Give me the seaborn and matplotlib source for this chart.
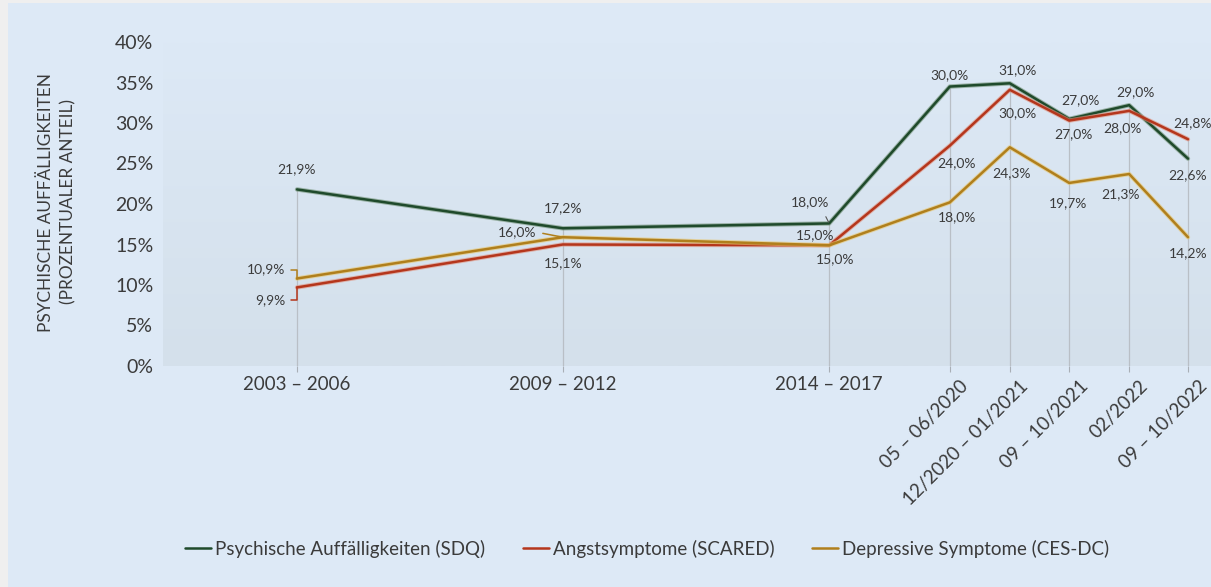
import numpy as np
import pandas as pd
import seaborn as sns
import matplotlib
matplotlib.use("Agg")
import matplotlib.pyplot as plt
import matplotlib.transforms as mtransforms
from matplotlib import patheffects as pe
from matplotlib.patches import Rectangle

# ---------------- data ----------------
periods = ["2003 – 2006", "2009 – 2012", "2014 – 2017", "05 – 06/2020",
           "12/2020 – 01/2021", "09 – 10/2021", "02/2022", "09 – 10/2022"]
x_pos = [0, 4.43, 8.87, 10.88, 11.88, 12.87, 13.87, 14.85]

sdq = [21.8, 17.0, 17.6, 34.5, 34.9, 30.5, 32.2, 25.6]
scared = [9.7, 15.0, 14.9, 27.2, 34.1, 30.3, 31.5, 28.0]
cesdc = [10.8, 15.9, 14.9, 20.2, 27.0, 22.6, 23.7, 15.9]

sdq_labels = ["21,9%", "17,2%", "18,0%", "30,0%", "31,0%", "27,0%", "29,0%", "22,6%"]
scared_labels = ["9,9%", "15,1%", "15,0%", "24,0%", "30,0%", "27,0%", "28,0%", "24,8%"]
cesdc_labels = ["10,9%", "16,0%", "15,0%", "18,0%", "24,3%", "19,7%", "21,3%", "14,2%"]

series_names = ["Psychische Auffälligkeiten (SDQ)", "Angstsymptome (SCARED)",
                "Depressive Symptome (CES-DC)"]
y_ticks = [0, 5, 10, 15, 20, 25, 30, 35, 40]

# ---------------- style ----------------
sns.set_theme(style="white")
plt.rcParams["font.family"] = ["Lato", "DejaVu Sans"]
TXT = "#3b3b3b"
colors = ["#1f4a2b", "#b5361c", "#b07f1c"]
glow = ["#6f8f74", "#e0907c", "#e8c56a"]

W, H = 1211, 587
fig = plt.figure(figsize=(W / 100, H / 100), dpi=100, facecolor="#efefef")
fig.patches.append(Rectangle((8 / W, 0), 1 - 8 / W, 1 - 3 / H, transform=fig.transFigure,
                             facecolor="#dde9f6", edgecolor="none", zorder=-10))

ax_left, ax_right, ax_top, ax_bot = 163, 1211, 42, 366
ax = fig.add_axes([ax_left / W, 1 - ax_bot / H, (ax_right - ax_left) / W, (ax_bot - ax_top) / H])
ax.set_facecolor("none")
grad = np.linspace(0, 1, 256).reshape(-1, 1)
cmap = matplotlib.colors.LinearSegmentedColormap.from_list("g", ["#dde9f6", "#d4e0eb"])
ax.imshow(grad, extent=[0, 1, 0, 1], transform=ax.transAxes, cmap=cmap, aspect="auto", zorder=0)

px = 60.0  # pixels per x unit
ax.set_xlim((ax_left - 297) / px, (ax_right - 297) / px)
ax.set_ylim(0, 40)

df = pd.DataFrame({
    "x": x_pos * 3,
    "value": sdq + scared + cesdc,
    "series": [series_names[0]] * len(x_pos) + [series_names[1]] * len(x_pos) + [series_names[2]] * len(x_pos),
})

# drop lines
tops = np.max(np.array([sdq, scared, cesdc]), axis=0)
ax.vlines(x_pos, 0, tops, color="#b9bfc6", linewidth=0.9, zorder=1)

sns.lineplot(data=df, x="x", y="value", hue="series", palette=dict(zip(series_names, colors)),
             sort=False, linewidth=1.8, ax=ax, legend=True, zorder=3)
for line, g in zip(ax.get_lines(), glow):
    line.set_path_effects([pe.Stroke(linewidth=3.2, foreground=g, alpha=0.6), pe.Normal()])

handles, labels = ax.get_legend_handles_labels()
ax.get_legend().remove()

for s in ax.spines.values():
    s.set_visible(False)
ax.set_xlabel("")
ax.set_ylabel("")
ax.set_yticks(y_ticks)
ax.set_yticklabels([f"{v}%" for v in y_ticks], fontsize=14, color=TXT)
ax.set_xticks(x_pos)
ax.set_xticklabels(periods, fontsize=13.5, color=TXT)
ax.tick_params(axis="y", length=0, pad=7)
ax.tick_params(axis="x", length=4, width=0.8, color="#a9afb6", direction="out", pad=3, bottom=True)
offset = mtransforms.ScaledTranslation(10 / 100, -2 / 100, fig.dpi_scale_trans)
for i, t in enumerate(ax.get_xticklabels()):
    if i >= 3:
        t.set_rotation(45)
        t.set_ha("right")
        t.set_va("top")
        t.set_rotation_mode("anchor")
        t.set_transform(t.get_transform() + offset)

fig.text(57 / W, 1 - 202 / H, "PSYCHISCHE AUFFÄLLIGKEITEN\n(PROZENTUALER ANTEIL)",
         rotation=90, ha="center", va="center", multialignment="center", fontsize=12.4,
         color=TXT, linespacing=1.5)

# ---------------- data labels ----------------
k = 0.72  # px -> pt
lab_fs = 10
sdq_off = [(0, 20), (0, 20), (-19, 21), (0, 11), (8, 13), (11, 19), (6, 13), (0, -17)]
scared_off = [(-12, -13), (0, -19), (-14, 10), (7, -17), (8, -23), (4, -14), (-7, -17), (5, 16)]
cesdc_off = [(-12, 9), (-26, 5), (6, -14), (7, -15), (2, -26), (-1, -20), (-9, -20), (0, -16)]

def put(vals, labs, offs, col, leaders):
    for i, (xv, yv, lab, (dx, dy)) in enumerate(zip(x_pos, vals, labs, offs)):
        kind = leaders.get(i)
        kw = dict(xy=(xv, yv), xytext=(dx * k, dy * k), textcoords="offset points",
                  va="center", fontsize=lab_fs, color=TXT, zorder=5, annotation_clip=False)
        if kind == "bracket":
            ax.annotate(lab, ha="right",
                        arrowprops=dict(arrowstyle="-", color=col, lw=1.1, shrinkA=2, shrinkB=0,
                                        relpos=(1, 0.5),
                                        connectionstyle="angle,angleA=0,angleB=90,rad=0"), **kw)
        elif kind == "right":
            ax.annotate(lab, ha="right",
                        arrowprops=dict(arrowstyle="-", color=col, lw=1.1, shrinkA=2, shrinkB=1,
                                        relpos=(1, 0.5)), **kw)
        elif kind == "plain":
            ax.annotate(lab, ha="center",
                        arrowprops=dict(arrowstyle="-", color="#555555", lw=0.8, shrinkA=4, shrinkB=1,
                                        relpos=(0.8, 0.0)), **kw)
        else:
            ax.annotate(lab, ha="center", **kw)

put(sdq, sdq_labels, sdq_off, colors[0], {2: "plain"})
put(scared, scared_labels, scared_off, colors[1], {0: "bracket"})
put(cesdc, cesdc_labels, cesdc_off, colors[2], {0: "bracket", 1: "right"})

fig.legend(handles, labels, loc="center left", bbox_to_anchor=(185 / W, 1 - 549 / H), ncol=3,
           frameon=False, fontsize=13.5, handlelength=1.4, handletextpad=0.2, columnspacing=2.0,
           labelcolor=TXT, borderaxespad=0, borderpad=0)

fig.savefig("out.png", dpi=100, facecolor=fig.get_facecolor())
